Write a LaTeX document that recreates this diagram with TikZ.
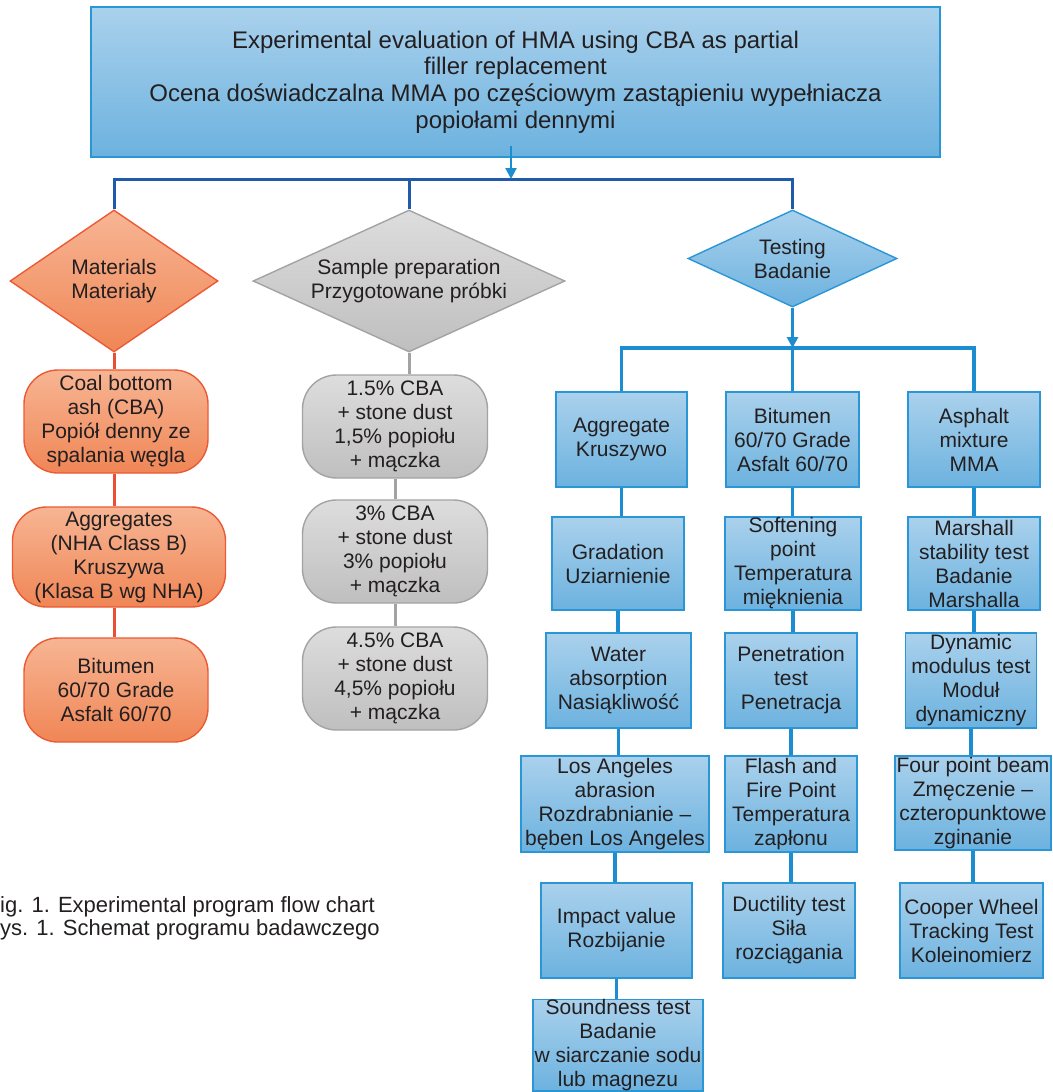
\documentclass[tikz,border=0pt]{standalone}
\usepackage{fontspec}
\setmainfont{Liberation Sans}
\usetikzlibrary{arrows.meta, shapes.geometric}
\definecolor{txt}{HTML}{231F20}
\definecolor{btop}{HTML}{AAD1EC}
\definecolor{bbot}{HTML}{6CB2DF}
\definecolor{bline}{HTML}{2B96D6}
\definecolor{bconn}{HTML}{1C8DD0}
\definecolor{dbus}{HTML}{1F5AAB}
\definecolor{otop}{HTML}{F7B593}
\definecolor{obot}{HTML}{F08656}
\definecolor{oline}{HTML}{EB5A35}
\definecolor{oconn}{HTML}{EA4E35}
\definecolor{gtop}{HTML}{DDDDDD}
\definecolor{gbot}{HTML}{BFBFBF}
\definecolor{gline}{HTML}{A3A3A3}
\tikzset{
    %Define standard arrow tip
    >={Triangle[width=11pt,length=11pt]},
}

\begin{document}
\begin{tikzpicture}[
  x=1pt, y=-1pt,
  every node/.style = {align=center, inner sep=0pt, text=txt,
                       font=\fontsize{21}{24}\selectfont},
  bbox/.style = {draw=bline, line width=1.4pt, top color=btop, bottom color=bbot},
  obox/.style = {draw=oline, line width=1.4pt, top color=otop, bottom color=obot,
                 rounded corners=34pt},
  gbox/.style = {draw=gline, line width=1.4pt, top color=gtop, bottom color=gbot,
                 rounded corners=34pt},
  dia/.style = {shape=diamond, aspect=2, line width=1.4pt},
  bcon/.style = {draw=bconn, line width=3.3pt},
  ocon/.style = {draw=oconn, line width=3pt},
  gcon/.style = {draw=gline, line width=3pt} ]
  \useasboundingbox (0,0) rectangle (1052,1092);

  % head of the chart
  \node [bbox, minimum width=849pt, minimum height=150pt,
         font=\fontsize{24}{26.7}\selectfont] (top) at (515.5,82)
    {Experimental evaluation of HMA using CBA as partial\\filler replacement\\
     Ocena doświadczalna MMA po częściowym zastąpieniu wypełniacza\\popiołami dennymi};

  % three branches
  \node [dia, draw=oline, top color=otop, bottom color=obot,
         minimum width=208pt, minimum height=142pt] (mat) at (114,281)
    {Materials\\Materiały};
  \node [dia, draw=gline, top color=gtop, bottom color=gbot,
         minimum width=312pt, minimum height=142pt] (smp) at (409,281)
    {Sample preparation\\Przygotowane próbki};
  \node [dia, draw=bline, top color=btop, bottom color=bbot,
         minimum width=209pt, minimum height=97pt] (tst) at (792.5,258.5)
    {Testing\\Badanie};

  \coordinate (jt) at (511,179);
  \draw [dbus, line width=3pt] (mat.north) |- (tst.north |- jt) -- (tst.north);
  \draw [dbus, line width=3pt] (smp.north) -- (smp.north |- jt);
  \draw [draw=bconn, line width=2.2pt, ->] (jt |- 0,146) -- (jt);

  % materials
  \node [obox, minimum width=184pt, minimum height=103pt] (coal) at (116,421.5)
    {Coal bottom\\ash (CBA)\\Popiół denny ze\\spalania węgla};
  \node [obox, minimum width=213pt, minimum height=100pt] (aggr) at (119,557)
    {Aggregates\\(NHA Class B)\\Kruszywa\\(Klasa B wg NHA)};
  \node [obox, minimum width=184pt, minimum height=104pt] (bitm) at (116,690)
    {Bitumen\\60/70 Grade\\Asfalt 60/70};
  \draw [ocon] (mat.south) -- (mat.south |- coal.north);
  \draw [ocon] (coal.south -| mat.south) -- (mat.south |- aggr.north);
  \draw [ocon] (aggr.south -| mat.south) -- (mat.south |- bitm.north);

  % samples
  \node [gbox, minimum width=185pt, minimum height=103pt] (s15) at (395,426.5)
    {1.5\% CBA\\+ stone dust\\1,5\% popiołu\\+ mączka};
  \node [gbox, minimum width=185pt, minimum height=103pt] (s30) at (395,551.5)
    {3\% CBA\\+ stone dust\\3\% popiołu\\+ mączka};
  \node [gbox, minimum width=185pt, minimum height=103pt] (s45) at (395,678.5)
    {4.5\% CBA\\+ stone dust\\4,5\% popiołu\\+ mączka};
  \draw [gcon] (smp.south) -- (smp.south |- s15.north);
  \draw [gcon] (s15.south) -- (s30.north);
  \draw [gcon] (s30.south) -- (s45.north);

  % tests, first row
  \node [bbox, minimum width=131pt, minimum height=95pt] (agg) at (621.5,439.5)
    {Aggregate\\Kruszywo};
  \node [bbox, minimum width=133pt, minimum height=95pt] (bit) at (792.5,439.5)
    {Bitumen\\60/70 Grade\\Asfalt 60/70};
  \node [bbox, minimum width=132pt, minimum height=95pt] (asp) at (974,439.5)
    {Asphalt\\mixture\\MMA};
  \coordinate (tb) at (tst.south |- 0,348);
  \draw [bcon, ->] (tst.south) -- (tb);
  \draw [bcon] (agg.north) |- (asp.north |- tb) -- (asp.north);
  \draw [bcon] (bit.north) -- (bit.north |- tb);

  % aggregate tests
  \node [bbox, minimum width=132pt, minimum height=93pt] (grad) at (618,563.5)
    {Gradation\\Uziarnienie};
  \node [bbox, minimum width=145pt, minimum height=95pt] (water) at (618.5,680.5)
    {Water\\absorption\\Nasiąkliwość};
  \node [bbox, minimum width=188pt, minimum height=96pt] (laa) at (615,804)
    {Los Angeles\\abrasion\\Rozdrabnianie –\\bęben Los Angeles};
  \node [bbox, minimum width=151pt, minimum height=95pt] (imp) at (616.5,930.5)
    {Impact value\\Rozbijanie};
  \node [bbox, minimum width=170pt, minimum height=91pt] (sound) at (618,1045)
    {Soundness test\\Badanie\\w siarczanie sodu\\lub magnezu};

  % bitumen tests
  \node [bbox, minimum width=136pt, minimum height=93pt] (soft) at (793,563.5)
    {Softening\\point\\Temperatura\\mięknienia};
  \node [bbox, minimum width=132pt, minimum height=95pt] (pen) at (791,680.5)
    {Penetration\\test\\Penetracja};
  \node [bbox, minimum width=132pt, minimum height=96pt] (flash) at (791,804)
    {Flash and\\Fire Point\\Temperatura\\zapłonu};
  \node [bbox, minimum width=132pt, minimum height=95pt] (duct) at (789,930.5)
    {Ductility test\\Siła\\rozciągania};

  % mixture tests
  \node [bbox, minimum width=132pt, minimum height=93pt] (mars) at (974,563.5)
    {Marshall\\stability test\\Badanie\\Marshalla};
  \node [bbox, minimum width=131pt, minimum height=95pt] (dyn) at (971,680.5)
    {Dynamic\\modulus test\\Moduł\\dynamiczny};
  \node [bbox, minimum width=156pt, minimum height=94pt] (four) at (973,803)
    {Four point beam\\Zmęczenie –\\czteropunktowe\\zginanie};
  \node [bbox, minimum width=143pt, minimum height=95pt] (coop) at (971.5,930.5)
    {Cooper Wheel\\Tracking Test\\Koleinomierz};

  \foreach \a/\b in {agg/grad, grad/water, water/laa, laa/imp, imp/sound,
                     bit/soft, soft/pen, pen/flash, flash/duct,
                     asp/mars, mars/dyn, dyn/four, four/coop}
    \draw [bcon] (\a.south) -- (\a.south |- \b.north);

  \node [anchor=west, align=left, font=\fontsize{22}{23.5}\selectfont] (cap) at (0,918.5)
    {ig. 1. Experimental program flow chart\\ys. 1. Schemat programu badawczego};
\end{tikzpicture}
\end{document}
